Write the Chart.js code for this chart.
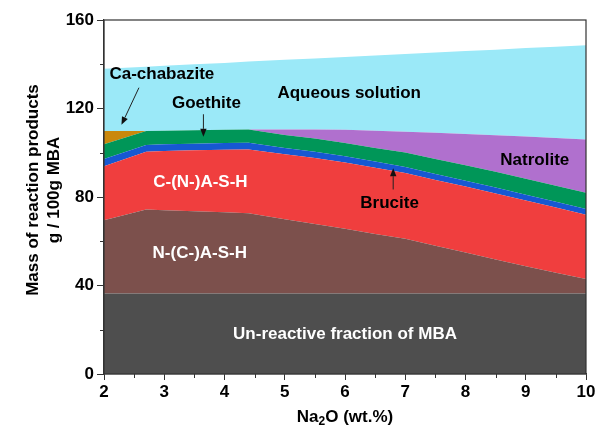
<!DOCTYPE html>
<html>
<head>
<meta charset="utf-8">
<script src="https://cdn.jsdelivr.net/npm/chart.js@4"></script>
<style>
html,body{margin:0;padding:0;background:#fff;}
#wrap{width:598px;height:429px;position:relative;}
</style>
</head>
<body>
<div id="wrap"><canvas id="c" width="598" height="429"></canvas></div>
<script>
// Na2O content (wt.%)
const xValues = [2, 2.7, 3, 3.5, 4, 4.4, 5, 5.5, 6, 6.5, 7, 7.5, 8, 8.5, 9, 9.5, 10];
// Mass of each product, g / 100 g MBA (stacked from bottom)
const unreactive  = [36.4, 36.4, 36.4, 36.4, 36.4, 36.4, 36.4, 36.4, 36.4, 36.4, 36.4, 36.4, 36.4, 36.4, 36.4, 36.4, 36.4];
const nash        = [33.1, 37.9, 37.6, 37.2, 36.7, 36.3, 33.6, 31.4, 29.2, 26.9, 24.7, 21.6, 18.5, 15.4, 12.3, 9.4, 6.5];
const cnash       = [24.4, 26.2, 26.8, 27.5, 28.3, 28.8, 29.3, 29.8, 30.0, 29.9, 29.7, 29.7, 29.8, 29.8, 29.7, 29.5, 29.1];
const brucite     = [3.3, 3.0, 3.0, 3.0, 3.0, 3.0, 2.9, 2.9, 2.8, 2.8, 2.8, 2.7, 2.7, 2.7, 2.6, 2.6, 2.6];
const goethite    = [6.6, 6.3, 6.2, 6.1, 6.0, 6.0, 5.8, 5.9, 6.0, 6.2, 6.5, 6.8, 7.0, 7.1, 7.2, 7.2, 7.3];
const caChabazite = [6.0, 0, 0, 0, 0, 0, 0, 0, 0, 0, 0, 0, 0, 0, 0, 0, 0];
const natrolite   = [0, 0, 0, 0, 0, 0, 2.5, 4.1, 6.0, 7.8, 9.4, 11.8, 14.1, 16.5, 19.1, 21.6, 24.1];
const aqueous     = [28.2, 29.1, 29.3, 29.8, 30.2, 30.7, 31.5, 32.1, 32.9, 34.0, 35.1, 36.3, 37.5, 38.7, 40.0, 41.2, 42.6];

const xTicks = [2, 3, 4, 5, 6, 7, 8, 9, 10];
const yTicks = [0, 40, 80, 120, 160];

// in-plot labels: [text, x, y, colour, align]
const labels = [
  ['Ca-chabazite', 2.09, 135.5, '#000', 'left'],
  ['Goethite', 3.70, 122.3, '#000', 'center'],
  ['Aqueous solution', 6.07, 126.9, '#000', 'center'],
  ['C-(N-)A-S-H', 3.60, 86.7, '#fff', 'center'],
  ['N-(C-)A-S-H', 3.59, 54.4, '#fff', 'center'],
  ['Brucite', 6.74, 77.0, '#000', 'center'],
  ['Natrolite', 9.15, 96.6, '#000', 'center'],
  ['Un-reactive fraction of MBA', 6.0, 18.1, '#fff', 'center']
];
// arrows: [x0, y0, x1(head), y1(head)]
const arrows = [
  [2.58, 129.4, 2.29, 112.6],
  [3.65, 117.4, 3.65, 107.2],
  [6.80, 83.4, 6.80, 93.0]
];

const FONT = "Arial, 'Liberation Sans', sans-serif";
const series = [
  ['Un-reactive fraction of MBA', unreactive, 'rgb(78,78,78)'],
  ['N-(C-)A-S-H', nash, 'rgb(124,80,76)'],
  ['C-(N-)A-S-H', cnash, 'rgb(240,62,62)'],
  ['Brucite', brucite, 'rgb(22,88,210)'],
  ['Goethite', goethite, 'rgb(0,150,88)'],
  ['Ca-chabazite', caChabazite, 'rgb(202,136,12)'],
  ['Natrolite', natrolite, 'rgb(176,112,206)'],
  ['Aqueous solution', aqueous, 'rgb(155,233,248)']
];

const datasets = series.map((s, k) => ({
  label: s[0],
  data: xValues.map((x, i) => ({x: x, y: s[1][i]})),
  backgroundColor: s[2],
  borderColor: s[2],
  borderWidth: 0,
  pointRadius: 0,
  tension: 0,
  fill: k === 0 ? 'origin' : '-1'
}));

const decor = {
  id: 'decor',
  afterDraw(chart) {
    const ctx = chart.ctx, a = chart.chartArea;
    const xs = chart.scales.x, ys = chart.scales.y;
    ctx.save();
    // frame
    ctx.strokeStyle = '#333';
    ctx.lineWidth = 1.2;
    ctx.strokeRect(a.left, a.top, a.right - a.left, a.bottom - a.top);
    // minor ticks
    ctx.strokeStyle = '#333';
    ctx.lineWidth = 1;
    ctx.beginPath();
    for (let v = 20; v < 160; v += 40) {
      const p = Math.round(ys.getPixelForValue(v)) + 0.5;
      ctx.moveTo(a.left - 4, p); ctx.lineTo(a.left, p);
    }
    for (let v = 2.5; v < 10; v += 1) {
      const p = Math.round(xs.getPixelForValue(v)) + 0.5;
      ctx.moveTo(p, a.bottom); ctx.lineTo(p, a.bottom + 4);
    }
    ctx.stroke();
    // in-plot labels
    ctx.font = 'bold 17px ' + FONT;
    ctx.textBaseline = 'middle';
    labels.forEach(l => {
      ctx.fillStyle = l[3];
      ctx.textAlign = l[4];
      ctx.fillText(l[0], xs.getPixelForValue(l[1]), ys.getPixelForValue(l[2]));
    });
    // arrows
    ctx.strokeStyle = '#222';
    ctx.fillStyle = '#111';
    ctx.lineWidth = 1;
    arrows.forEach(ar => {
      const x0 = xs.getPixelForValue(ar[0]), y0 = ys.getPixelForValue(ar[1]);
      const x1 = xs.getPixelForValue(ar[2]), y1 = ys.getPixelForValue(ar[3]);
      const ang = Math.atan2(y1 - y0, x1 - x0);
      const L = 8, W = 3.2;
      const bx = x1 - L * Math.cos(ang), by = y1 - L * Math.sin(ang);
      ctx.beginPath(); ctx.moveTo(x0, y0); ctx.lineTo(bx, by); ctx.stroke();
      ctx.beginPath();
      ctx.moveTo(x1, y1);
      ctx.lineTo(bx + W * Math.sin(ang), by - W * Math.cos(ang));
      ctx.lineTo(bx - W * Math.sin(ang), by + W * Math.cos(ang));
      ctx.closePath(); ctx.fill();
    });
    // axis titles
    ctx.fillStyle = '#000';
    ctx.textAlign = 'left';
    ctx.textBaseline = 'middle';
    const big = 'bold 17px ' + FONT, small = 'bold 12px ' + FONT;
    ctx.font = big; const w1 = ctx.measureText('Na').width, w3 = ctx.measureText('O (wt.%)').width;
    ctx.font = small; const w2 = ctx.measureText('2').width;
    const cx = (a.left + a.right) / 2, ty = 417;
    let sx = cx - (w1 + w2 + w3) / 2;
    ctx.font = big; ctx.fillText('Na', sx, ty);
    ctx.font = small; ctx.fillText('2', sx + w1, ty + 5);
    ctx.font = big; ctx.fillText('O (wt.%)', sx + w1 + w2, ty);
    ctx.save();
    ctx.translate(33, 190);
    ctx.rotate(-Math.PI / 2);
    ctx.textAlign = 'center';
    ctx.font = big;
    ctx.fillText('Mass of reaction products', 0, 0);
    ctx.fillText('g / 100g MBA', 0, 21);
    ctx.restore();
    ctx.restore();
  }
};

new Chart(document.getElementById('c'), {
  type: 'line',
  data: { datasets: datasets },
  options: {
    responsive: false,
    animation: false,
    layout: { padding: { top: 20, right: 12, left: 0, bottom: 0 } },
    plugins: { legend: { display: false }, tooltip: { enabled: false } },
    scales: {
      x: {
        type: 'linear', min: 2, max: 10,
        afterBuildTicks: s => { s.ticks = xTicks.map(v => ({value: v})); },
        afterFit: s => { s.height = 55; },
        ticks: { color: '#000', font: { family: FONT, size: 17, weight: 'bold' }, padding: 2, maxRotation: 0 },
        grid: { display: true, drawOnChartArea: false, drawTicks: true, tickLength: 6, color: '#333' },
        border: { display: true, color: '#333', width: 1.2 }
      },
      y: {
        type: 'linear', min: 0, max: 160, stacked: true,
        afterBuildTicks: s => { s.ticks = yTicks.map(v => ({value: v})); },
        afterFit: s => { s.width = 104; },
        ticks: { color: '#000', font: { family: FONT, size: 17, weight: 'bold' }, padding: 3 },
        grid: { display: true, drawOnChartArea: false, drawTicks: true, tickLength: 7, color: '#333' },
        border: { display: true, color: '#333', width: 1.2 }
      }
    }
  },
  plugins: [decor]
});
</script>
</body>
</html>
